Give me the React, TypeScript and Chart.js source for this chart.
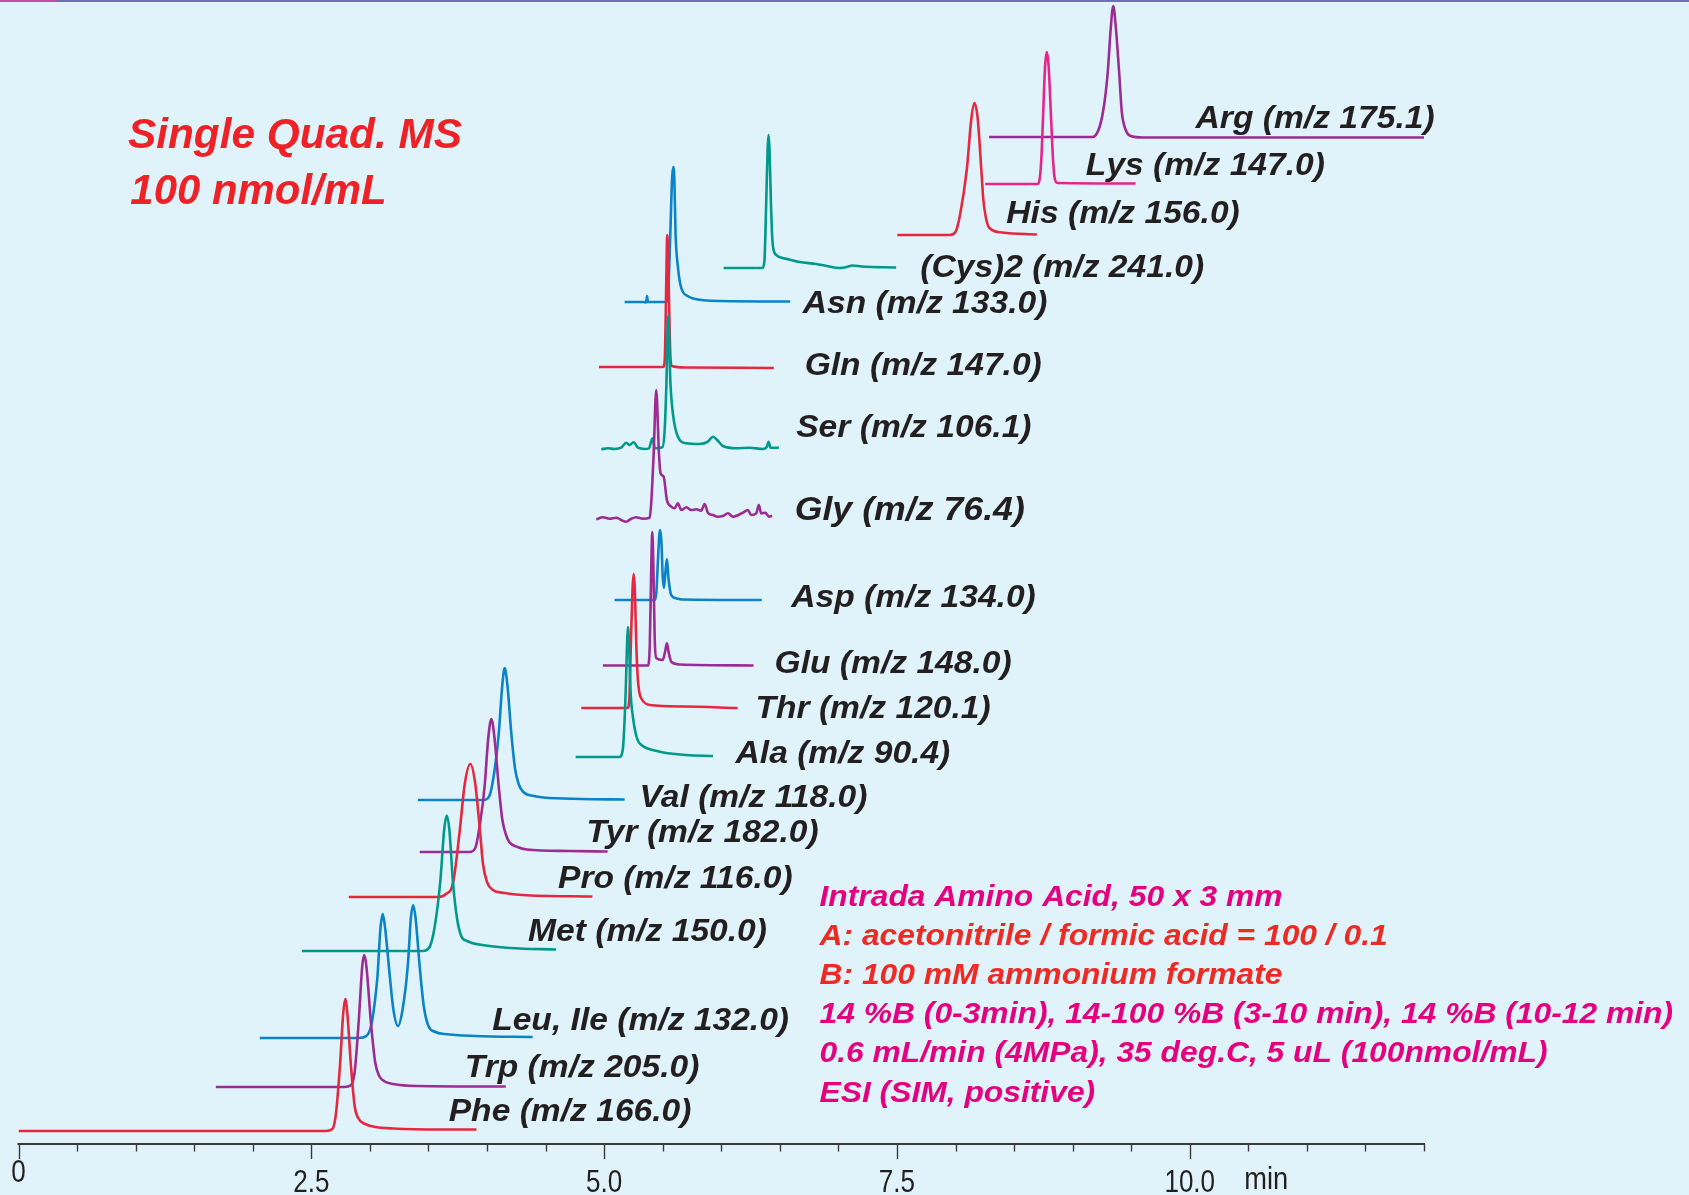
import React, { useEffect, useRef } from 'react';
import { Chart, registerables } from 'chart.js';

Chart.register(...registerables);

// SIM traces: [retention time (min), offset response (a.u.)], stacked baselines included.
const phe: [number, number][] = [[0, 13], [2.62, 13], [2.68, 15], [2.71, 30], [2.745, 79], [2.772, 130], [2.79, 145], [2.808, 130], [2.838, 79], [2.87, 38], [2.9, 26], [2.96, 20], [3.05, 17], [3.2, 15.5], [3.6, 14.5], [3.91, 14.5]];
const trp: [number, number][] = [[1.685, 57], [2.78, 57], [2.84, 59], [2.87, 72], [2.905, 123], [2.935, 178], [2.952, 189], [2.97, 178], [3.008, 123], [3.045, 82], [3.08, 68], [3.12, 63], [3.2, 60], [3.4, 58], [4.16, 57.5]];
const leuIle: [number, number][] = [[2.06, 106], [2.9, 106], [2.97, 108], [3.01, 118], [3.04, 140], [3.065, 168], [3.09, 215], [3.11, 230], [3.13, 216], [3.17, 168], [3.2, 135], [3.24, 118], [3.28, 135], [3.325, 180], [3.35, 226], [3.37, 239], [3.39, 226], [3.425, 178], [3.46, 138], [3.5, 118], [3.56, 112], [3.64, 110], [3.9, 108], [4.39, 107]];
const met: [number, number][] = [[2.42, 193], [3.45, 193], [3.51, 197], [3.55, 215], [3.6, 261], [3.635, 315], [3.656, 328.5], [3.678, 315], [3.71, 261], [3.745, 225], [3.78, 208], [3.83, 203], [3.96, 199], [4.2, 196], [4.59, 194.5]];
const pro: [number, number][] = [[2.82, 247], [3.58, 247], [3.65, 250], [3.71, 261], [3.767, 313], [3.81, 360], [3.858, 380], [3.9, 360], [3.94, 313], [3.966, 280], [4.0, 262], [4.05, 254], [4.15, 251], [4.3, 249], [4.9, 247.5]];
const tyr: [number, number][] = [[3.426, 292], [3.85, 292], [3.9, 296], [3.94, 320], [3.98, 358], [4.01, 405], [4.037, 425], [4.065, 405], [4.1, 358], [4.13, 325], [4.16, 310], [4.19, 302], [4.26, 297], [4.34, 294.5], [4.7, 293], [5.03, 292.5]];
const val: [number, number][] = [[3.41, 344], [3.97, 344], [4.02, 348], [4.06, 370], [4.1, 410], [4.13, 458], [4.151, 476], [4.175, 458], [4.208, 410], [4.24, 375], [4.27, 360], [4.31, 352], [4.4, 348], [4.48, 346.5], [4.8, 345], [5.175, 344.5]];
const ala: [number, number][] = [[4.757, 387], [5.13, 387], [5.16, 395], [5.184, 452], [5.197, 505], [5.203, 517], [5.212, 502], [5.226, 452], [5.246, 427], [5.28, 406], [5.33, 398], [5.36, 396], [5.45, 393], [5.53, 391], [5.7, 389], [5.93, 388]];
const thr: [number, number][] = [[4.805, 436], [5.2, 436], [5.215, 445], [5.229, 503], [5.243, 556], [5.252, 570], [5.262, 555], [5.274, 503], [5.285, 470], [5.3, 452], [5.32, 445], [5.39, 439], [5.68, 437.5], [6.14, 436]];
const glu: [number, number][] = [[4.99, 478.5], [5.375, 478.5], [5.39, 500], [5.403, 580], [5.411, 612], [5.42, 580], [5.432, 505], [5.445, 486], [5.5, 484], [5.52, 492], [5.536, 500.7], [5.552, 491], [5.575, 482], [5.65, 479.5], [6.276, 478.5]];
const asp: [number, number][] = [[5.09, 544], [5.43, 544], [5.445, 550], [5.46, 585], [5.472, 610], [5.48, 614], [5.49, 600], [5.5, 568], [5.51, 556], [5.522, 570], [5.536, 585], [5.55, 565], [5.573, 549], [5.62, 545.5], [5.66, 544.5], [6.346, 544]];
const gly: [number, number][] = [[4.933, 624.7], [4.99, 626.7], [5.047, 625.3], [5.104, 626.3], [5.146, 624], [5.189, 622.3], [5.232, 625.3], [5.274, 626.7], [5.331, 625.3], [5.388, 626.3], [5.402, 640.7], [5.423, 690.7], [5.445, 754], [5.468, 690.7], [5.482, 670.7], [5.508, 667.3], [5.536, 644], [5.573, 637.3], [5.602, 635.7], [5.63, 640.7], [5.659, 634], [5.702, 636.7], [5.744, 634], [5.787, 634.7], [5.829, 633.3], [5.858, 640], [5.886, 631.3], [5.929, 629], [5.971, 627.3], [6.014, 628], [6.057, 630.7], [6.1, 627.3], [6.142, 628.7], [6.185, 631.3], [6.227, 634], [6.256, 629], [6.298, 630.7], [6.321, 639], [6.341, 630.7], [6.378, 631.3], [6.406, 627.3], [6.435, 628]];
const ser: [number, number][] = [[4.976, 694.7], [5.033, 695.7], [5.09, 695], [5.146, 696.3], [5.189, 701.3], [5.217, 699], [5.252, 701.7], [5.289, 696.3], [5.346, 695], [5.383, 695.7], [5.412, 705.7], [5.434, 695.7], [5.497, 696.7], [5.517, 714], [5.531, 757.3], [5.548, 829], [5.565, 764], [5.587, 730.7], [5.63, 707.3], [5.701, 700.7], [5.815, 700], [5.886, 702.3], [5.929, 707.3], [5.971, 703.3], [6.014, 698], [6.128, 695.7], [6.242, 696.3], [6.356, 695], [6.39, 697.3], [6.404, 702.3], [6.421, 696.3], [6.492, 696.3]];
const gln: [number, number][] = [[4.956, 777], [5.505, 777], [5.518, 785], [5.528, 843], [5.535, 895], [5.539, 909], [5.545, 893], [5.554, 843], [5.565, 790], [5.578, 778], [5.7, 776.5], [6.449, 776]];
const asn: [number, number][] = [[5.175, 842], [5.34, 842], [5.358, 841.5], [5.366, 848], [5.374, 842], [5.53, 842], [5.545, 848], [5.565, 910], [5.58, 965], [5.59, 977], [5.6, 963], [5.61, 910], [5.63, 877], [5.65, 860], [5.673, 852], [5.72, 847.5], [5.76, 845.5], [6.0, 843], [6.589, 842.5]];
const cys2: [number, number][] = [[6.02, 876], [6.35, 876], [6.368, 882], [6.384, 942], [6.396, 995], [6.404, 1009], [6.412, 995], [6.424, 942], [6.436, 905], [6.447, 894], [6.47, 889], [6.498, 887], [6.58, 884.5], [6.67, 882], [6.81, 880], [6.9, 878], [7.01, 876], [7.07, 877], [7.12, 878.5], [7.2, 877.5], [7.493, 876.5]];
const his: [number, number][] = [[7.503, 909], [7.95, 909], [8.0, 912], [8.04, 930], [8.097, 975], [8.135, 1025], [8.162, 1041], [8.19, 1025], [8.22, 975], [8.238, 944], [8.26, 926], [8.29, 916], [8.4, 911.5], [8.695, 909.5]];
const lys: [number, number][] = [[8.254, 960], [8.7, 960], [8.72, 966], [8.735, 990], [8.747, 1026], [8.765, 1078], [8.78, 1092], [8.795, 1078], [8.816, 1026], [8.83, 990], [8.845, 967], [8.87, 961], [9.538, 960.5]];
const arg: [number, number][] = [[8.287, 1007], [9.17, 1007], [9.23, 1017], [9.27, 1040], [9.3, 1072], [9.325, 1115], [9.347, 1138], [9.37, 1115], [9.397, 1072], [9.42, 1032], [9.45, 1015], [9.495, 1008], [9.6, 1006.5], [12.0, 1006.5]];

// Time axis
const timeTickValues = [0, 2.5, 5, 7.5, 10];
const timeTickLabels = ['0', '2.5', '5.0', '7.5', '10.0'];
const timeUnit = 'min';

// Text blocks
const titleLines = ['Single Quad. MS', '100 nmol/mL'];
const conditionLines = [
  'Intrada Amino Acid, 50 x 3 mm',
  'A: acetonitrile / formic acid = 100 / 0.1',
  'B: 100 mM ammonium formate',
  '14 %B (0-3min), 14-100 %B (3-10 min), 14 %B (10-12 min)',
  '0.6 mL/min (4MPa), 35 deg.C, 5 uL (100nmol/mL)',
  'ESI (SIM, positive)',
];

const RED = '#E5283F';
const PURPLE = '#9C2B93';
const BLUE = '#0A83C9';
const TEAL = '#00998A';
const PINK = '#E8248C';
const INK = '#231F20';
const TITLE_RED = '#EE2127';
const NOTE_MAGENTA = '#E4007F';
const NOTE_RED = '#EE2A24';

// Trace table: label text sits at [time, response] in data space.
const traces = [
  { label: 'Phe (m/z 166.0)', color: RED, points: phe, labelAt: [3.673, 23], labelSize: 32 },
  { label: 'Trp (m/z 205.0)', color: PURPLE, points: trp, labelAt: [3.81, 67], labelSize: 32 },
  { label: 'Leu, Ile (m/z 132.0)', color: BLUE, points: leuIle, labelAt: [4.044, 114], labelSize: 32 },
  { label: 'Met (m/z 150.0)', color: TEAL, points: met, labelAt: [4.35, 203.5], labelSize: 32 },
  { label: 'Pro (m/z 116.0)', color: RED, points: pro, labelAt: [4.606, 256], labelSize: 32 },
  { label: 'Tyr (m/z 182.0)', color: PURPLE, points: tyr, labelAt: [4.85, 302.5], labelSize: 32 },
  { label: 'Val (m/z 118.0)', color: BLUE, points: val, labelAt: [5.303, 337.5], labelSize: 32 },
  { label: 'Ala (m/z 90.4)', color: TEAL, points: ala, labelAt: [6.122, 380.7], labelSize: 32 },
  { label: 'Thr (m/z 120.1)', color: RED, points: thr, labelAt: [6.292, 425.7], labelSize: 32 },
  { label: 'Glu (m/z 148.0)', color: PURPLE, points: glu, labelAt: [6.455, 470.7], labelSize: 32 },
  { label: 'Asp (m/z 134.0)', color: BLUE, points: asp, labelAt: [6.597, 536.7], labelSize: 32 },
  { label: 'Gly (m/z 76.4)', color: PURPLE, points: gly, labelAt: [6.627, 624], labelSize: 34 },
  { label: 'Ser (m/z 106.1)', color: TEAL, points: ser, labelAt: [6.64, 707.3], labelSize: 32 },
  { label: 'Gln (m/z 147.0)', color: RED, points: gln, labelAt: [6.712, 769], labelSize: 32 },
  { label: 'Asn (m/z 133.0)', color: BLUE, points: asn, labelAt: [6.696, 831.3], labelSize: 32 },
  { label: '(Cys)2 (m/z 241.0)', color: TEAL, points: cys2, labelAt: [7.699, 867.3], labelSize: 32 },
  { label: 'His (m/z 156.0)', color: RED, points: his, labelAt: [8.434, 920.7], labelSize: 32 },
  { label: 'Lys (m/z 147.0)', color: PINK, points: lys, labelAt: [9.113, 969], labelSize: 32 },
  { label: 'Arg (m/z 175.1)', color: PURPLE, points: arg, labelAt: [10.05, 1015.7], labelSize: 32 },
];

function drawStretched(
  ctx: CanvasRenderingContext2D,
  text: string,
  px: number,
  py: number,
  font: string,
  color: string,
  sx: number,
  align: CanvasTextAlign = 'left'
) {
  ctx.save();
  ctx.font = font;
  ctx.fillStyle = color;
  ctx.textAlign = align;
  ctx.textBaseline = 'alphabetic';
  ctx.translate(px, py);
  ctx.scale(sx, 1);
  ctx.fillText(text, 0, 0);
  ctx.restore();
}

const chromAnnotations = {
  id: 'chromAnnotations',
  afterDatasetsDraw(chart: any) {
    const { ctx, chartArea, scales } = chart;
    const x = scales.x;
    const y = scales.y;
    const axisY = chartArea.bottom;
    ctx.save();

    // time axis line and ticks
    ctx.strokeStyle = '#3A3A3A';
    ctx.lineWidth = 2;
    ctx.beginPath();
    ctx.moveTo(x.getPixelForValue(x.min) - 1, axisY);
    ctx.lineTo(x.getPixelForValue(x.max) + 1, axisY);
    ctx.stroke();
    ctx.lineWidth = 1.4;
    for (const tick of x.ticks) {
      const px = Math.round(x.getPixelForValue(tick.value)) + 0.5;
      const major = Math.abs(tick.value / 2.5 - Math.round(tick.value / 2.5)) < 1e-6;
      ctx.beginPath();
      ctx.moveTo(px, axisY);
      ctx.lineTo(px, axisY + (major ? 15 : 7.5));
      ctx.stroke();
    }
    const tickFont = '31px "Liberation Sans", Arial, sans-serif';
    timeTickValues.forEach((v, i) => {
      const px = x.getPixelForValue(v);
      drawStretched(ctx, timeTickLabels[i], px, axisY + (v === 0 ? 38 : 47.5), tickFont, INK, 0.84, 'center');
    });
    drawStretched(ctx, timeUnit, x.getPixelForValue(10.465), axisY + 45, tickFont, INK, 0.88, 'left');

    // trace labels
    for (const tr of traces) {
      const labelFont = `italic bold ${tr.labelSize}px "Liberation Sans", Arial, sans-serif`;
      drawStretched(ctx, tr.label, x.getPixelForValue(tr.labelAt[0]), y.getPixelForValue(tr.labelAt[1]), labelFont, INK, 1.05);
    }

    // title
    const titleFont = 'italic bold 43px "Liberation Sans", Arial, sans-serif';
    drawStretched(ctx, titleLines[0], x.getPixelForValue(0.934), y.getPixelForValue(996), titleFont, TITLE_RED, 0.985);
    drawStretched(ctx, titleLines[1], x.getPixelForValue(0.955), y.getPixelForValue(940), titleFont, TITLE_RED, 0.975);

    // separation conditions
    const noteFont = 'italic bold 30px "Liberation Sans", Arial, sans-serif';
    const noteColors = [NOTE_MAGENTA, NOTE_RED, NOTE_RED, NOTE_MAGENTA, NOTE_MAGENTA, NOTE_MAGENTA];
    conditionLines.forEach((line, i) => {
      drawStretched(ctx, line, x.getPixelForValue(6.839), y.getPixelForValue(238 - i * 39.1), noteFont, noteColors[i], 1.06);
    });

    ctx.restore();
  },
};

export default function App() {
  const canvasRef = useRef<HTMLCanvasElement | null>(null);

  useEffect(() => {
    document.body.style.margin = '0';
    const canvas = canvasRef.current;
    if (!canvas) return;
    const chart = new Chart(canvas, {
      type: 'line',
      data: {
        datasets: traces.map((tr) => ({
          label: tr.label,
          data: tr.points.map(([t, r]) => ({ x: t, y: r })),
          borderColor: tr.color,
          borderWidth: 2.6,
          pointRadius: 0,
          fill: false,
          cubicInterpolationMode: 'monotone' as const,
        })),
      },
      options: {
        responsive: false,
        animation: false,
        events: [],
        layout: { padding: { left: 18.5, right: 265, top: 0, bottom: 0 } },
        plugins: { legend: { display: false }, tooltip: { enabled: false } },
        scales: {
          x: {
            type: 'linear',
            min: 0,
            max: 12,
            ticks: { display: false, stepSize: 0.5 },
            grid: { display: false },
            border: { display: false },
            afterFit: (scale: any) => {
              scale.height = 51;
            },
          },
          y: { type: 'linear', display: false, min: 0, max: 1144 },
        },
      },
      plugins: [chromAnnotations],
    });
    return () => chart.destroy();
  }, []);

  return (
    <div
      style={{
        position: 'relative',
        width: 1689,
        height: 1195,
        background: '#E0F3FA',
        overflow: 'hidden',
      }}
    >
      <div
        style={{
          position: 'absolute',
          left: 0,
          top: 0,
          width: 1689,
          height: 2,
          background: 'linear-gradient(to right, #C0509E 0px, #C0509E 52px, #7070B8 62px, #7070B8 100%)',
        }}
      />
      <canvas ref={canvasRef} width={1689} height={1195} style={{ display: 'block' }} />
    </div>
  );
}
